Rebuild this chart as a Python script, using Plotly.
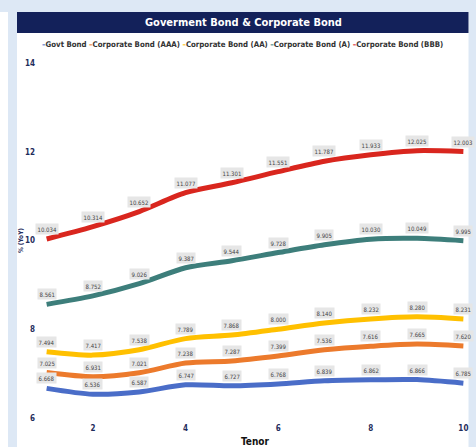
import plotly.graph_objects as go

tenor = [1, 2, 3, 4, 5, 6, 7, 8, 9, 10]
govt = [6.668, 6.536, 6.587, 6.747, 6.727, 6.768, 6.839, 6.862, 6.866, 6.785]
aaa = [7.025, 6.931, 7.021, 7.238, 7.287, 7.399, 7.536, 7.616, 7.665, 7.620]
aa = [7.494, 7.417, 7.538, 7.789, 7.868, 8.000, 8.140, 8.232, 8.280, 8.231]
a_ = [8.561, 8.752, 9.026, 9.387, 9.544, 9.728, 9.905, 10.030, 10.049, 9.995]
bbb = [10.034, 10.314, 10.652, 11.077, 11.301, 11.551, 11.787, 11.933, 12.025, 12.003]

series_names = ["Govt Bond", "Corporate Bond (AAA)", "Corporate Bond (AA)",
                "Corporate Bond (A)", "Corporate Bond (BBB)"]
series_values = [govt, aaa, aa, a_, bbb]
colors = ["#4A6DC8", "#EC7A2C", "#FFC000", "#3D7E7B", "#D9261E"]
x_ticks = [2, 4, 6, 8, 10]
y_ticks = [6, 8, 10, 12, 14]

W, H = 476, 447
L, R, T, B = 42, 8, 63, 29
pw, ph = W - L - R, H - T - B

def px(x):
    return (x - L) / pw

def py(y):
    return (H - B - y) / ph

FONT = "Liberation Sans Narrow, DejaVu Sans Condensed, Arial Narrow, sans-serif"

fig = go.Figure()
for name, vals, c in zip(series_names, series_values, colors):
    fig.add_trace(go.Scatter(x=tenor, y=vals, name=name, mode="lines",
                             line=dict(color=c, width=5, shape="spline", smoothing=0.8),
                             showlegend=False))

shapes = [
    dict(type="rect", xref="paper", yref="paper", x0=px(0), x1=px(8), y0=py(H), y1=py(12),
         fillcolor="white", line_width=0, layer="below"),
    dict(type="rect", xref="paper", yref="paper", x0=px(17), x1=px(468.5), y0=py(H + 2), y1=py(12),
         fillcolor="white", line_width=0, layer="below"),
    dict(type="rect", xref="paper", yref="paper", x0=px(17), x1=px(468.5), y0=py(33), y1=py(12),
         fillcolor="#13215A", line_width=0, layer="below"),
]

annotations = [
    dict(text="<b>Goverment Bond & Corporate Bond</b>", xref="paper", yref="paper",
         x=px(243), y=py(22.5), showarrow=False, xanchor="center", yanchor="middle",
         font=dict(family=FONT, size=11, color="white")),
]

legend_parts = []
for name, c in zip(series_names, colors):
    legend_parts.append(f"<span style='color:{c}'>–</span>{name}")
annotations.append(dict(text="<b>" + " ".join(legend_parts) + "</b>", xref="paper", yref="paper",
                        x=px(242), y=py(44), showarrow=False, xanchor="center", yanchor="middle",
                        font=dict(family=FONT, size=7.8, color="#333333")))

for vals in series_values:
    for xv, yv in zip(tenor, vals):
        annotations.append(dict(x=xv, y=yv, text=f"{yv:.3f}", showarrow=False, yshift=10,
                                bgcolor="#E6E6E6", borderpad=1.5,
                                font=dict(family=FONT, size=6, color="#444444")))

fig.update_layout(
    width=W, height=H,
    margin=dict(l=L, r=R, t=T, b=B, pad=0, autoexpand=False),
    paper_bgcolor="#DDE8F5",
    plot_bgcolor="rgba(0,0,0,0)",
    shapes=shapes,
    annotations=annotations,
    font=dict(family=FONT),
    xaxis=dict(range=[0.9, 10.1], tickvals=x_ticks, showgrid=False, zeroline=False,
               showline=False, ticks="", ticklabelstandoff=4, automargin=False,
               tickfont=dict(family=FONT, size=8, color="#1F2D5C", weight="bold"),
               title=dict(text="<b>Tenor</b>", standoff=10,
                          font=dict(family=FONT, size=10, color="#111111"))),
    yaxis=dict(range=[6, 14], tickvals=y_ticks, showgrid=False, zeroline=False,
               showline=False, ticks="", ticklabelstandoff=6, automargin=False,
               tickfont=dict(family=FONT, size=8, color="#1F2D5C", weight="bold"),
               title=dict(text="<b>% (YoY)</b>", standoff=0,
                          font=dict(family=FONT, size=6.5, color="#1F2D5C"))),
)

fig.write_html("out.html")
